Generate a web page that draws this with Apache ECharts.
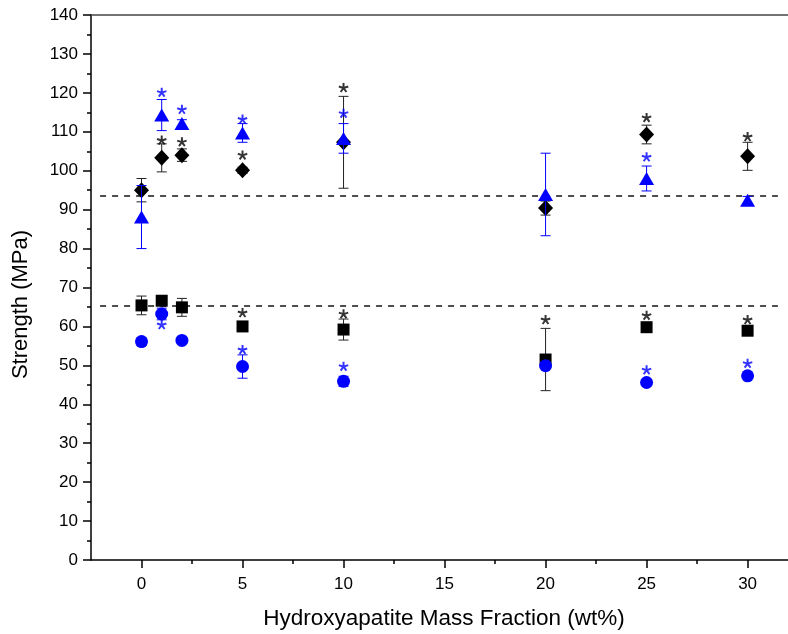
<!DOCTYPE html>
<html><head><meta charset="utf-8">
<script src="https://cdn.jsdelivr.net/npm/echarts@6/dist/echarts.min.js"></script>
<style>html,body{margin:0;padding:0;background:#fff}#c{width:788px;height:634px}</style>
</head><body><div id="c"></div>
<script>
// ---- data ----
const xValues = [0, 1, 2, 5, 10, 20, 25, 30];
const diamondMean = [95.0, 103.3, 104.0, 100.1, 107.3, 90.4, 109.3, 103.7];
const diamondErr  = [3.0, 3.6, 1.6, 0.8, 11.8, 1.8, 2.4, 3.6];
const triangleMean = [88.1, 114.3, 112.1, 109.7, 108.3, 93.9, 98.0, 92.4];
const triangleErr  = [8.1, 4.0, 1.0, 2.4, 3.8, 10.6, 3.2, 1.0];
const squareMean = [65.4, 66.6, 64.9, 60.0, 59.2, 51.5, 59.8, 58.9];
const squareErr  = [2.4, 0.8, 2.3, 0.8, 2.7, 8.0, 0.8, 0.8];
const circleMean = [56.1, 63.2, 56.4, 49.7, 45.9, 49.9, 45.6, 47.3];
const circleErr  = [1.0, 1.5, 0.5, 3.0, 1.3, 0.8, 0.6, 0.6];
// significance asterisks [x, y]
const starsBlackHigh = [[1, 107.8], [2, 107.4], [5, 104.0], [10, 121.3], [25, 113.6], [30, 108.7]];
const starsBlueHigh  = [[1, 120.1], [2, 115.7], [5, 113.2], [10, 114.7], [25, 103.5]];
const starsBlackLow  = [[5, 63.5], [10, 63.2], [20, 61.7], [25, 62.8], [30, 61.7]];
const starsBlueLow   = [[1, 60.4], [5, 54.0], [10, 49.7], [25, 48.8], [30, 50.5]];
// reference (dashed) lines
const refLevels = [93.5, 65.2];
const refSpan = [-2.05, 31.5];
const xMajorTicks = [0, 5, 10, 15, 20, 25, 30];
const xMinorTicks = [2.5, 7.5, 12.5, 17.5, 22.5, 27.5];

// ---- helpers ----
function starPath() {
  const L = 10, w = 2.0; let s = '';
  [-90, -18, 54, 126, 198].forEach(a => {
    const r = a * Math.PI / 180, dx = Math.cos(r), dy = Math.sin(r), nx = -dy, ny = dx;
    const p = [[nx*w, ny*w], [nx*w + dx*L, ny*w + dy*L], [-nx*w + dx*L, -ny*w + dy*L], [-nx*w, -ny*w]];
    s += 'M' + p.map(q => q[0].toFixed(2) + ',' + q[1].toFixed(2)).join('L') + 'Z';
  });
  return 'path://' + s;
}
const STAR = starPath();
const errData = (m, e) => xValues.map((x, i) => [x, m[i] - e[i], m[i] + e[i]]);
const ptData = m => xValues.map((x, i) => [x, m[i]]);
function errSeries(m, e, color, z) {
  return {
    type: 'custom', z: z, silent: true,
    encode: { x: 0, y: [1, 2] },
    data: errData(m, e),
    renderItem: function (params, api) {
      const x = api.value(0);
      const a = api.coord([x, api.value(2)]), b = api.coord([x, api.value(1)]);
      const cw = 5;
      const st = { stroke: color, lineWidth: 1 };
      return { type: 'group', children: [
        { type: 'line', shape: { x1: a[0], y1: a[1], x2: b[0], y2: b[1] }, style: st },
        { type: 'line', shape: { x1: a[0] - cw, y1: a[1], x2: a[0] + cw, y2: a[1] }, style: st },
        { type: 'line', shape: { x1: b[0] - cw, y1: b[1], x2: b[0] + cw, y2: b[1] }, style: st }
      ]};
    }
  };
}
function ptSeries(m, symbol, size, color, z) {
  return { type: 'scatter', data: ptData(m), symbol: symbol, symbolSize: size, z: z,
    itemStyle: { color: color, opacity: 1 }, silent: true };
}
function starSeries(d, color) {
  return { type: 'scatter', data: d, symbol: STAR, symbolSize: [10, 9.5], z: 20,
    itemStyle: { color: color }, silent: true };
}

const FONT = 'Liberation Sans, Arial, sans-serif';
const chart = echarts.init(document.getElementById('c'), null, { renderer: 'canvas' });
chart.setOption({
  animation: false,
  backgroundColor: '#fff',
  grid: { left: 91, right: 0, top: 15, bottom: 74, containLabel: false, outerBoundsMode: 'none' },
  xAxis: [
    { type: 'value', min: -2.5, max: 32, position: 'bottom',
      name: 'Hydroxyapatite Mass Fraction (wt%)', nameLocation: 'middle', nameGap: 47,
      nameTextStyle: { fontFamily: FONT, fontSize: 22.5, color: '#000', padding: [0, 0, 0, 9] },
      axisLine: { show: true, onZero: false, lineStyle: { color: '#000', width: 1.5 } },
      axisTick: { show: true, customValues: xMajorTicks, length: 8, lineStyle: { color: '#000', width: 1.5 } },
      axisLabel: { customValues: xMajorTicks, fontFamily: FONT, fontSize: 17, color: '#000', margin: 16 },
      splitLine: { show: false } },
    { type: 'value', min: -2.5, max: 32, position: 'bottom',
      axisLine: { show: false },
      axisTick: { show: true, customValues: xMinorTicks, length: 4, lineStyle: { color: '#000', width: 1.5 } },
      axisLabel: { show: false }, splitLine: { show: false } },
    { type: 'value', min: -2.5, max: 32, position: 'top',
      axisLine: { show: true, onZero: false, lineStyle: { color: '#444', width: 1.5 } },
      axisTick: { show: false }, axisLabel: { show: false }, splitLine: { show: false } }
  ],
  yAxis: {
    type: 'value', min: 0, max: 140, interval: 10,
    name: 'Strength (MPa)', nameLocation: 'middle', nameGap: 59,
    nameTextStyle: { fontFamily: FONT, fontSize: 22, color: '#000', padding: [0, 34, 0, 0] },
    axisLine: { show: true, onZero: false, lineStyle: { color: '#000', width: 1.5 } },
    axisTick: { show: true, length: 8, lineStyle: { color: '#000', width: 1.5 } },
    minorTick: { show: true, splitNumber: 2, length: 4, lineStyle: { color: '#000', width: 1.5 } },
    axisLabel: { fontFamily: FONT, fontSize: 17, color: '#000', margin: 13 },
    splitLine: { show: false }
  },
  series: [
    Object.assign(ptSeries(squareMean, 'rect', 12, '#000', 3), {
      markLine: { silent: true, symbol: 'none', label: { show: false }, z: 1,
        lineStyle: { color: '#222', width: 1.6, type: [6, 6] },
        data: refLevels.map(v => [{ coord: [refSpan[0], v] }, { coord: [refSpan[1], v] }]) } }),
    errSeries(squareMean, squareErr, '#222', 2),
    ptSeries(diamondMean, 'diamond', [15, 16], '#000', 3),
    errSeries(diamondMean, diamondErr, '#222', 2),
    errSeries(circleMean, circleErr, '#0000ff', 5),
    ptSeries(circleMean, 'circle', 13, '#0000ff', 6),
    errSeries(triangleMean, triangleErr, '#0000ff', 5),
    ptSeries(triangleMean, 'triangle', [15, 13], '#0000ff', 6),
    starSeries(starsBlackHigh, '#000'),
    starSeries(starsBlueHigh, '#0000ff'),
    starSeries(starsBlackLow, '#000'),
    starSeries(starsBlueLow, '#0000ff')
  ]
});
</script></body></html>
